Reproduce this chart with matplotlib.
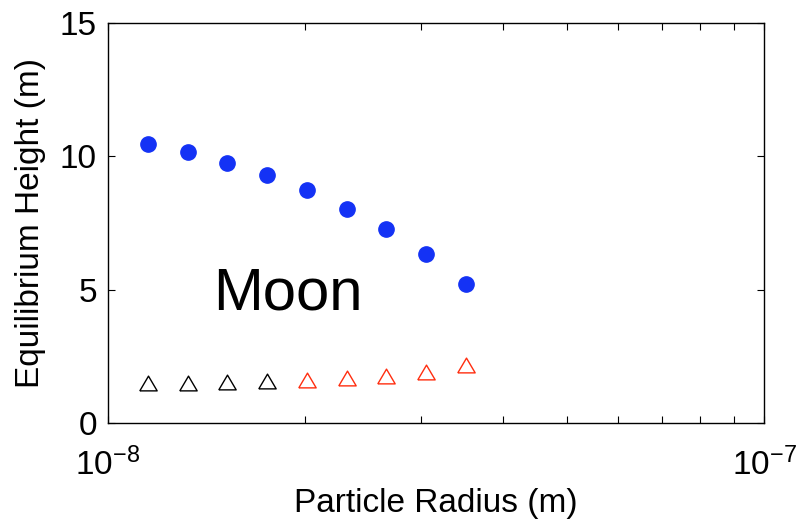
import matplotlib
matplotlib.use("Agg")
import matplotlib.pyplot as plt
from matplotlib.ticker import FixedLocator, LogLocator, NullFormatter

plt.rcParams["font.family"] = ["Liberation Sans", "DejaVu Sans"]
plt.rcParams["mathtext.fontset"] = "custom"
plt.rcParams["mathtext.rm"] = "Liberation Sans"
plt.rcParams["mathtext.it"] = "Liberation Sans:italic"
plt.rcParams["mathtext.bf"] = "Liberation Sans:bold"

# particle radius (m)
radius = [1.150e-8, 1.323e-8, 1.519e-8, 1.746e-8, 2.009e-8,
          2.311e-8, 2.653e-8, 3.053e-8, 3.511e-8]
# equilibrium heights (m)
height_circle = [10.46, 10.16, 9.76, 9.29, 8.72, 8.04, 7.26, 6.34, 5.22]
height_tri_black = [1.49, 1.51, 1.53, 1.56]
height_tri_red = [1.61, 1.67, 1.77, 1.92, 2.19]
n_black = len(height_tri_black)

blue = "#1432f5"
red = "#ff2d0f"
tri = [(-1, -0.85), (1, -0.85), (0, 0.85), (-1, -0.85)]

fig = plt.figure(figsize=(8, 5.22), dpi=100)
ax = fig.add_axes([0.135, 0.1897, 0.82, 0.7663])

ax.plot(radius, height_circle, "o", color=blue, ms=11, mec=blue)
ax.plot(radius[:n_black], height_tri_black, ls="none", marker=tri, ms=12.5,
        mfc="none", mec="black", mew=1.0)
ax.plot(radius[n_black:], height_tri_red, ls="none", marker=tri, ms=12.5,
        mfc="none", mec=red, mew=1.0)

ax.set_xscale("log")
ax.set_xlim(1e-8, 1e-7)
ax.set_ylim(0, 15)
ax.yaxis.set_major_locator(FixedLocator([0, 5, 10, 15]))
ax.xaxis.set_major_locator(LogLocator(base=10))
ax.xaxis.set_minor_locator(LogLocator(base=10, subs=range(2, 10)))
ax.xaxis.set_minor_formatter(NullFormatter())

ax.tick_params(which="both", direction="in", top=True, right=True,
               width=0.8, labelsize=24)
ax.tick_params(which="major", length=5)
ax.tick_params(which="minor", length=5)
ax.tick_params(axis="x", pad=18)
ax.tick_params(axis="y", pad=8)
for s in ax.spines.values():
    s.set_linewidth(1.0)

ax.set_xlabel("Particle Radius (m)", fontsize=24, labelpad=4)
ax.set_ylabel("Equilibrium Height (m)", fontsize=24, labelpad=10)

ax.text(1.445e-8, 4.24, "Moon", fontsize=43, ha="left", va="baseline")

fig.savefig("out.png", dpi=100)
